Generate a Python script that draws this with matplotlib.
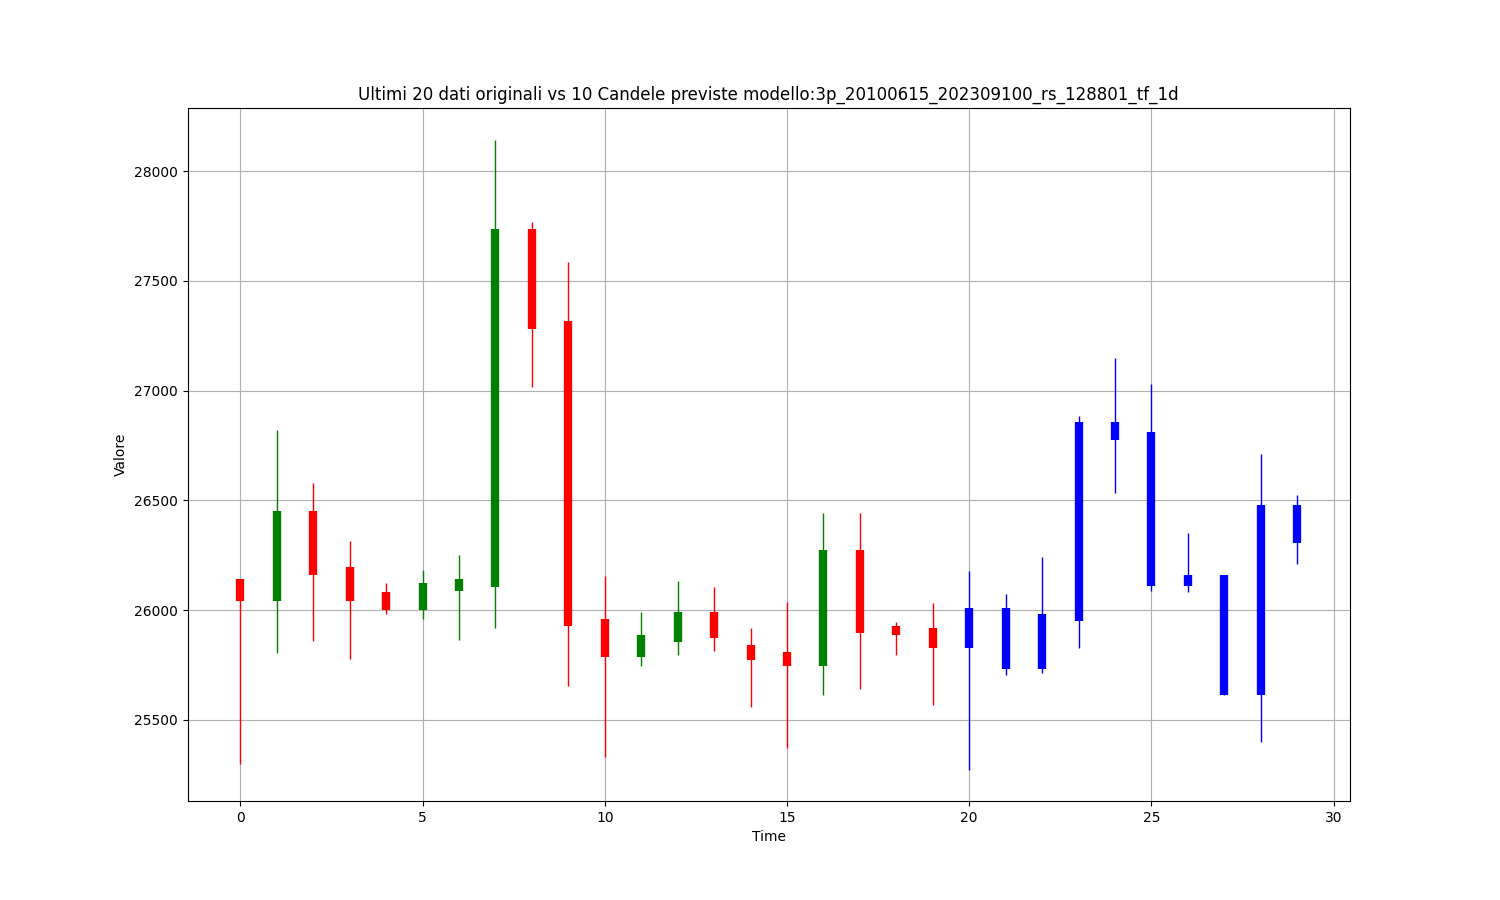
import numpy
import matplotlib
matplotlib.use("Agg")
import matplotlib.pyplot as plt

# ultimi 20 dati originali
orig_open = [26142, 26039, 26453, 26198, 26080, 25998, 26087, 26104, 27735, 27318,
             25961, 25787, 25852, 25989, 25841, 25810, 25743, 26274, 25928, 25919]
orig_close = [26039, 26453, 26160, 26043, 25998, 26121, 26140, 27735, 27281, 25926,
              25788, 25887, 25989, 25873, 25774, 25743, 26274, 25893, 25884, 25825]
orig_high = [26142, 26821, 26581, 26316, 26125, 26183, 26251, 28145, 27768, 27587,
             26157, 25989, 26134, 26107, 25916, 26037, 26443, 26443, 25946, 26033]
orig_low = [25298, 25806, 25861, 25776, 25980, 25961, 25862, 25917, 27015, 25653,
            25328, 25746, 25796, 25811, 25556, 25369, 25611, 25642, 25793, 25565]

# 10 candele previste
prev_open = [25825, 26010, 25733, 25948, 26857, 26811, 26111, 26160, 25614, 26479]
prev_close = [26010, 25733, 25983, 26857, 26776, 26111, 26160, 25614, 26479, 26307]
prev_high = [26180, 26074, 26242, 26884, 27148, 27031, 26351, 26160, 26711, 26525]
prev_low = [25273, 25703, 25712, 25829, 26535, 26089, 26080, 25614, 25400, 26212]


def main():
    n_orig = len(orig_open)
    x_orig = numpy.arange(n_orig)
    x_prev = numpy.arange(n_orig, n_orig + len(prev_open))

    o = numpy.array(orig_open)
    c = numpy.array(orig_close)
    colors = numpy.where(c >= o, "green", "red")

    fig, ax = plt.subplots(figsize=(15, 9))
    ax.vlines(x_orig, orig_low, orig_high, colors=colors, linewidth=1)
    ax.vlines(x_orig, numpy.minimum(o, c), numpy.maximum(o, c), colors=colors, linewidth=6)

    po = numpy.array(prev_open)
    pc = numpy.array(prev_close)
    ax.vlines(x_prev, prev_low, prev_high, colors="blue", linewidth=1)
    ax.vlines(x_prev, numpy.minimum(po, pc), numpy.maximum(po, pc), colors="blue", linewidth=6)

    ax.set_xlabel("Time")
    ax.set_ylabel("Valore")
    plt.title("Ultimi 20 dati originali vs 10 Candele previste modello:3p_20100615_202309100_rs_128801_tf_1d")
    ax.grid(True)
    fig.savefig("out.png", dpi=100)


if __name__ == '__main__':
    main()
